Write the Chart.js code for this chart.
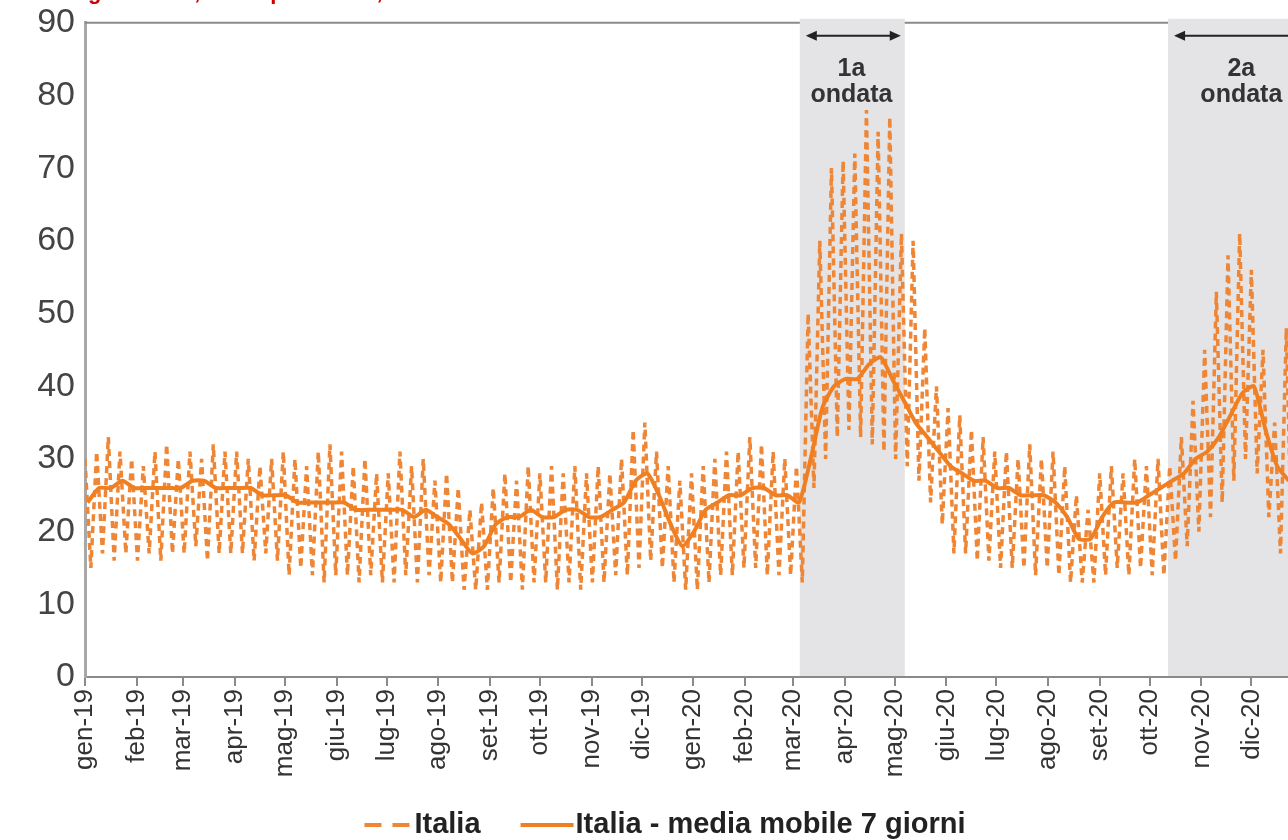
<!DOCTYPE html>
<html>
<head>
<meta charset="utf-8">
<script src="https://cdn.jsdelivr.net/npm/chart.js@4.4.1/dist/chart.umd.min.js"></script>
<style>
	html, body { margin: 0; padding: 0; background: #fff; }
	#wrap { width: 1288px; height: 840px; position: relative; }
</style>
</head>
<body>
<div id="wrap"><canvas id="chart_decessi"></canvas></div>
<script>
// etichette dei mesi sull'asse x
var mesi = [
	'gen-19', 'feb-19', 'mar-19', 'apr-19', 'mag-19', 'giu-19',
	'lug-19', 'ago-19', 'set-19', 'ott-19', 'nov-19', 'dic-19',
	'gen-20', 'feb-20', 'mar-20', 'apr-20', 'mag-20', 'giu-20',
	'lug-20', 'ago-20', 'set-20', 'ott-20', 'nov-20', 'dic-20'
];
var primoGiorno = '2019-01-01';
var ultimoGiorno = '2020-12-23';

// serie giornaliera "Italia": massimo e minimo di ogni settimana (dal 1 gen 2019)
var italiaAlto = [
	30, 31, 33, 31, 30, 29, 31, 32, 30, 31, 30, 32, 31,
	31, 30, 29, 30, 31, 30, 29, 31, 32, 31, 29, 30, 28,
	28, 31, 29, 30, 27, 28, 26, 23, 24, 26, 28, 27, 29,
	28, 29, 28, 29, 28, 29, 28, 30, 34, 35, 31, 29, 27,
	28, 29, 30, 31, 31, 33, 32, 31, 30, 29, 50, 60, 70,
	71, 72, 78, 75, 77, 61, 60, 48, 40, 37, 36, 34, 33,
	31, 31, 30, 32, 30, 31, 29, 25, 23, 28, 29, 28, 30,
	29, 30, 29, 33, 38, 45, 53, 58, 61, 56, 45, 35, 48
];
var italiaBasso = [
	15, 17, 16, 17, 16, 17, 16, 17, 17, 18, 16, 17, 17,
	17, 16, 17, 16, 14, 15, 14, 13, 14, 14, 13, 14, 13,
	13, 14, 13, 14, 13, 13, 12, 12, 12, 13, 13, 12, 13,
	13, 12, 13, 12, 13, 13, 14, 14, 15, 16, 15, 13, 12,
	12, 13, 14, 14, 15, 15, 14, 14, 14, 13, 26, 30, 33,
	34, 33, 32, 31, 30, 29, 27, 24, 21, 17, 17, 16, 16,
	15, 15, 15, 14, 15, 14, 13, 13, 13, 14, 15, 14, 15,
	14, 14, 16, 18, 20, 22, 24, 27, 30, 28, 22, 17, 15
];
// media mobile 7 giorni, un valore per settimana
var mediaMobile = [
	24, 26, 26, 27, 26, 26, 26, 26, 26, 27, 27, 26, 26,
	26, 26, 25, 25, 25, 24, 24, 24, 24, 24, 23, 23, 23,
	23, 23, 22, 23, 22, 21, 19, 17, 18, 21, 22, 22, 23,
	22, 22, 23, 23, 22, 22, 23, 24, 27, 28, 25, 21, 18,
	20, 23, 24, 25, 25, 26, 26, 25, 25, 24, 30, 37, 40,
	41, 41, 43, 44, 41, 38, 35, 33, 31, 29, 28, 27, 27,
	26, 26, 25, 25, 25, 24, 22, 19, 19, 22, 24, 24, 24,
	25, 26, 27, 28, 30, 31, 33, 36, 39, 40, 34, 29, 27
];

// periodi delle ondate (fascia grigia)
var ondataNomi = ['1a', '2a'];
var ondataInizio = ['2020-03-05', '2020-10-12'];
var ondataFine = ['2020-05-07', null];
var ondataEtichetta = ['2020-04-05', '2020-11-25'];

var titolo = 'Decessi giornalieri, dati e provvisori, Italia';

function giorno(data) {
	return (Date.parse(data + 'T00:00:00Z') - Date.parse(primoGiorno + 'T00:00:00Z')) / 86400000;
}

var inizioMesi = mesi.map(function (m, i) {
	return (Date.UTC(2019, i, 1) - Date.UTC(2019, 0, 1)) / 86400000;
});

var puntiItalia = [];
italiaAlto.forEach(function (v, i) {
	puntiItalia.push({ x: i * 7, y: v });
	puntiItalia.push({ x: i * 7 + 3.5, y: italiaBasso[i] });
});
var puntiMedia = mediaMobile.map(function (v, i) {
	return { x: i * 7 + 1.5, y: v };
});

var fontFamily = '"Liberation Sans", Arial, sans-serif';

var ondatePlugin = {
	id: 'ondate',
	beforeDatasetsDraw: function (chart) {
		var ctx = chart.ctx;
		var area = chart.chartArea;
		var sx = chart.scales.x;
		ctx.save();
		// bordo superiore
		ctx.strokeStyle = '#8a8a8a';
		ctx.lineWidth = 2;
		ctx.beginPath();
		ctx.moveTo(area.left, area.top);
		ctx.lineTo(area.right, area.top);
		ctx.stroke();

		ondataNomi.forEach(function (nome, i) {
			var x0 = sx.getPixelForValue(giorno(ondataInizio[i]));
			var x1 = ondataFine[i] ? sx.getPixelForValue(giorno(ondataFine[i])) : area.right;
			ctx.fillStyle = '#e4e4e6';
			ctx.fillRect(x0, area.top - 4, x1 - x0, area.bottom - area.top + 3);

			// freccia
			var ya = area.top + 13;
			var a0 = x0 + 6;
			var a1 = ondataFine[i] ? x1 - 4 : area.right;
			ctx.strokeStyle = '#222';
			ctx.fillStyle = '#222';
			ctx.lineWidth = 2;
			ctx.beginPath();
			ctx.moveTo(a0 + 6, ya);
			ctx.lineTo(ondataFine[i] ? a1 - 6 : a1, ya);
			ctx.stroke();
			ctx.beginPath();
			ctx.moveTo(a0, ya);
			ctx.lineTo(a0 + 11, ya - 5);
			ctx.lineTo(a0 + 11, ya + 5);
			ctx.closePath();
			ctx.fill();
			if (ondataFine[i]) {
				ctx.beginPath();
				ctx.moveTo(a1, ya);
				ctx.lineTo(a1 - 11, ya - 5);
				ctx.lineTo(a1 - 11, ya + 5);
				ctx.closePath();
				ctx.fill();
			}

			// testo
			var xt = sx.getPixelForValue(giorno(ondataEtichetta[i]));
			ctx.fillStyle = '#333';
			ctx.font = 'bold 25px ' + fontFamily;
			ctx.textAlign = 'center';
			ctx.textBaseline = 'alphabetic';
			ctx.fillText(nome, xt, area.top + 53);
			ctx.fillText('ondata', xt, area.top + 79);
		});
		ctx.restore();
	},
	afterDraw: function (chart) {
		var ctx = chart.ctx;
		var ds = chart.data.datasets;
		ctx.save();

		// titolo (tagliato in alto)
		ctx.font = 'bold 22px ' + fontFamily;
		ctx.fillStyle = '#d00000';
		ctx.textAlign = 'left';
		ctx.textBaseline = 'alphabetic';
		var xg = 88 - ctx.measureText('Decessi ').width;
		ctx.fillText(titolo, xg, -1);

		// legenda
		ctx.font = 'bold 29px ' + fontFamily;
		ctx.textBaseline = 'middle';
		ctx.fillStyle = '#222';
		var yl = 825;
		var w0 = ctx.measureText(ds[0].label).width;
		var w1 = ctx.measureText(ds[1].label).width;
		var total = 46 + 4 + w0 + 40 + 53 + 2 + w1;
		var x = chart.width / 2 + 21 - total / 2;

		ctx.strokeStyle = ds[0].borderColor;
		ctx.lineWidth = 4;
		ctx.setLineDash([17, 11]);
		ctx.beginPath();
		ctx.moveTo(x, yl);
		ctx.lineTo(x + 46, yl);
		ctx.stroke();
		ctx.setLineDash([]);
		x += 50;
		ctx.fillText(ds[0].label, x, yl);
		x += w0 + 40;

		ctx.strokeStyle = ds[1].borderColor;
		ctx.lineWidth = 4;
		ctx.beginPath();
		ctx.moveTo(x, yl);
		ctx.lineTo(x + 53, yl);
		ctx.stroke();
		x += 55;
		ctx.fillText(ds[1].label, x, yl);
		ctx.restore();
	}
};

var chart_decessi = new Chart(
	document.getElementById('chart_decessi'),
	{
		type: 'line',
		data: {
			datasets: [
				{
					label: 'Italia',
					data: puntiItalia,
					borderColor: '#ee8636',
					backgroundColor: '#ee8636',
					borderWidth: 3.5,
					borderDash: [7, 5],
					pointRadius: 0,
					tension: 0,
					order: 2
				},
				{
					label: 'Italia - media mobile 7 giorni',
					data: puntiMedia,
					borderColor: '#f07f22',
					backgroundColor: '#f07f22',
					borderWidth: 4,
					pointRadius: 0,
					tension: 0.2,
					order: 1
				}
			]
		},
		options: {
			responsive: true,
			maintainAspectRatio: false,
			animation: false,
			layout: { padding: { top: 15, right: 0, bottom: 0, left: 0 } },
			scales: {
				x: {
					type: 'linear',
					min: 0,
					max: giorno(ultimoGiorno),
					afterBuildTicks: function (scale) {
						scale.ticks = inizioMesi.map(function (d) { return { value: d }; });
					},
					afterFit: function (scale) { scale.height = 163; },
					grid: {
						display: true,
						drawOnChartArea: false,
						drawTicks: true,
						tickLength: 9,
						color: '#8a8a8a',
						lineWidth: 2
					},
					border: { display: true, color: '#8a8a8a', width: 2 },
					ticks: {
						autoSkip: false,
						minRotation: 90,
						maxRotation: 90,
						padding: 3,
						color: '#333',
						font: { size: 26, family: fontFamily },
						callback: function (v, i) { return mesi[i]; }
					}
				},
				y: {
					min: 0,
					max: 90,
					afterFit: function (scale) { scale.width = 85; },
					grid: { display: false, drawTicks: false },
					border: { display: true, color: '#a8a8a8', width: 3 },
					ticks: {
						stepSize: 10,
						padding: 10,
						color: '#444',
						font: { size: 34, family: fontFamily, lineHeight: 0.75 }
					}
				}
			},
			plugins: {
				legend: { display: false },
				tooltip: { enabled: false }
			}
		},
		plugins: [ondatePlugin]
	}
);
</script>
</body>
</html>
